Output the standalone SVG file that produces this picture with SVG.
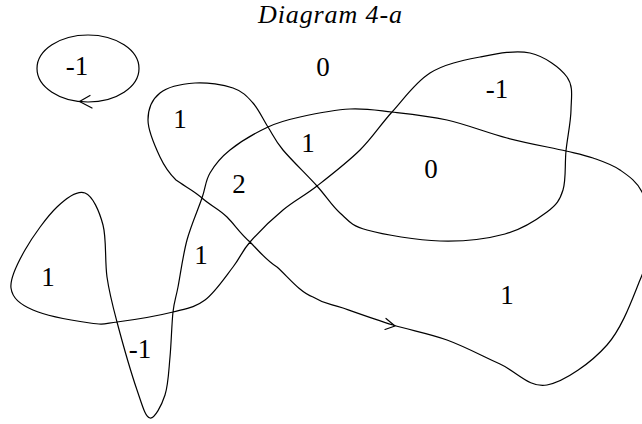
<svg xmlns="http://www.w3.org/2000/svg" width="642" height="424" viewBox="0 0 642 424">
<style>
.c{fill:none;stroke:#000;stroke-width:1.2;stroke-linejoin:round;stroke-linecap:round}
.l{font-family:"Liberation Serif","Times New Roman",serif;font-size:27px;fill:#000;text-anchor:middle}
.t{font-family:"Liberation Serif","Times New Roman",serif;font-size:26px;font-style:italic;fill:#000}
</style>
<rect width="642" height="424" fill="#fff"/>
<text class="t" x="258" y="23" textLength="144" lengthAdjust="spacing">Diagram 4-a</text>
<g id="connectors">
<g id="small-loop">
<ellipse class="c" cx="88" cy="68.5" rx="51" ry="33.5"/>
<path class="c" d="M90,95.5 L79.5,101.5 L92,108"/>
</g>
<g id="main-curve">
<path class="c" d="M393,325 C410.3,330.3 429.2,333.5 447,340 C464.8,346.5 483.3,356.5 500,364 C516.7,371.5 529.2,388.2 547,385 C564.8,381.8 591.5,362.5 607,345 C622.5,327.5 632.5,298.3 640,280 C647.5,261.7 651.7,249.7 652,235 C652.3,220.3 647.3,202.8 642,192 C636.7,181.2 628.2,175.7 620,170 C611.8,164.3 602,161.2 593,158 C584,154.8 580.3,154.3 566,151 C551.7,147.7 526.8,143.2 507,138 C487.2,132.8 466.2,124.3 447,120 C427.8,115.7 408.2,113.8 392,112 C375.8,110.2 365.3,108.2 350,109 C334.7,109.8 313.7,114 300,117 C286.3,120 279.7,121.5 268,127 C256.3,132.5 239.7,142.3 230,150 C220.3,157.7 214.7,165 210,173 C205.3,181 205.8,186.8 202,198 C198.2,209.2 191,225.2 187,240 C183,254.8 180.3,275 178,287 C175.7,299 174.3,300.3 173,312 C171.7,323.7 171.3,343.2 170,357 C168.7,370.8 168.3,384.8 165,395 C161.7,405.2 154.7,418.8 150,418 C145.3,417.2 142.5,406 137,390 C131.5,374 122,340.8 117,322 C112,303.2 109.3,293.2 107,277 C104.7,260.8 106.7,239 103,225 C99.3,211 92.7,196 85,193 C77.3,190 67,197.5 57,207 C47,216.5 32.7,236.5 25,250 C17.3,263.5 9.7,278 11,288 C12.3,298 19.8,304.2 33,310 C46.2,315.8 76,321 90,323 C104,325 103.2,323.8 117,322 C130.8,320.2 158.3,315.7 173,312 C187.7,308.3 195,307.5 205,300 C215,292.5 225.5,276.7 233,267 C240.5,257.3 241.7,251.5 250,242 C258.3,232.5 271.8,219.3 283,210 C294.2,200.7 304.2,196 317,186 C329.8,176 347.5,162.3 360,150 C372.5,137.7 380.3,124.8 392,112 C403.7,99.2 415.3,82.2 430,73 C444.7,63.8 463.3,60.3 480,57 C496.7,53.7 515.5,49.7 530,53 C544.5,56.3 560.2,67.5 567,77 C573.8,86.5 571.2,97.7 571,110 C570.8,122.3 567.3,137.7 566,151 C564.7,164.3 566.2,179.8 563,190 C559.8,200.2 556.7,204.7 547,212 C537.3,219.3 522.8,229.2 505,234 C487.2,238.8 463,241.7 440,241 C417,240.3 383.7,234.7 367,230 C350.3,225.3 348.3,220.3 340,213 C331.7,205.7 326.5,196.5 317,186 C307.5,175.5 291.2,159.8 283,150 C274.8,140.2 273,134.8 268,127 C263,119.2 258.8,109.5 253,103 C247.2,96.5 242.7,91.3 233,88 C223.3,84.7 207.2,82.2 195,83 C182.8,83.8 167.8,86.8 160,93 C152.2,99.2 148,109.3 148,120 C148,130.7 155.3,147 160,157 C164.7,167 169,173.2 176,180 C184.5,186.2 194,190.7 202,198 C210,205.3 218.7,208.7 227,217 C235.3,225.3 239.5,232.8 250,242 C258.3,250.3 266,260.2 277,267 C287.5,276.2 299.7,292.3 313,297 C324,303.8 325.7,302.7 343,308 C356.3,312.7 375.7,319.7 393,325 Z"/>
<path class="c" d="M386,318.5 L395,326 L385,329.5"/>
</g>
</g>
<g id="labels">
<text class="l" x="77" y="75">-1</text>
<text class="l" x="323" y="76">0</text>
<text class="l" x="497" y="98">-1</text>
<text class="l" x="180" y="128">1</text>
<text class="l" x="308" y="152">1</text>
<text class="l" x="239" y="193">2</text>
<text class="l" x="431" y="178">0</text>
<text class="l" x="201" y="264">1</text>
<text class="l" x="48" y="286">1</text>
<text class="l" x="507" y="304">1</text>
<text class="l" x="140" y="358">-1</text>
</g>
</svg>
